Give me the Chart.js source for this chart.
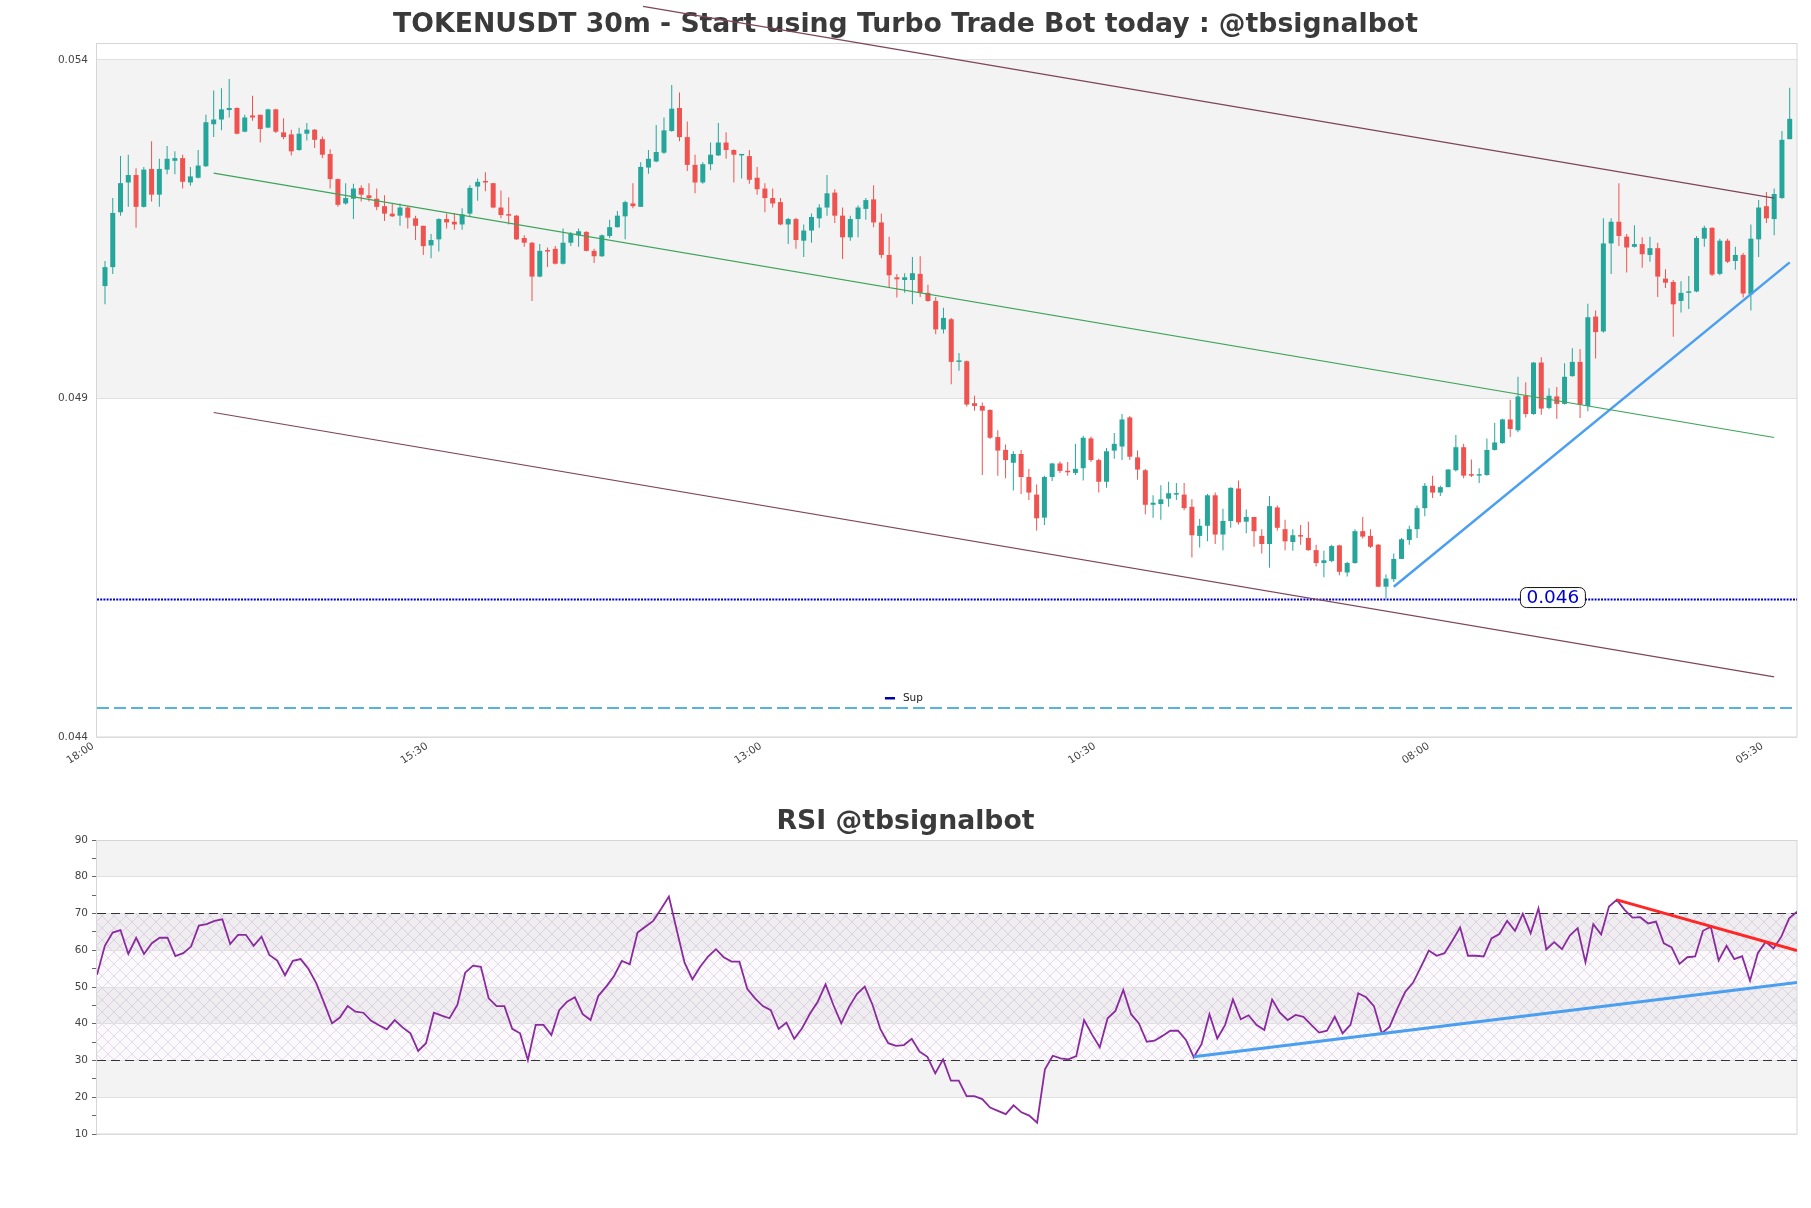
<!DOCTYPE html>
<html>
<head>
<meta charset="utf-8">
<script src="https://cdn.jsdelivr.net/npm/chart.js@4.4.1/dist/chart.umd.min.js"></script>
<style>
  html, body { margin: 0; padding: 0; background: #fff; }
  #wrap { position: relative; width: 1811px; height: 1208px; }
  canvas { position: absolute; left: 0; }
</style>
</head>
<body>
<div id="wrap">
  <canvas id="price" width="1811" height="790" style="top:0"></canvas>
  <canvas id="rsi" width="1811" height="418" style="top:790px"></canvas>
</div>
<script>
// ---- candles (30m) ----
const open = [
  0.05066,0.05094,0.05175,0.05219,0.05230,0.05183,0.05239,0.05201,0.05238,0.05251,
  0.05255,0.05219,0.05226,0.05243,0.05305,0.05312,0.05326,0.05329,0.05294,0.05318,
  0.05319,0.05300,0.05327,0.05293,0.05290,0.05267,0.05291,0.05297,0.05283,0.05261,
  0.05224,0.05188,0.05195,0.05211,0.05200,0.05195,0.05184,0.05173,0.05170,0.05182,
  0.05166,0.05155,0.05126,0.05135,0.05165,0.05161,0.05157,0.05173,0.05213,0.05220,
  0.05218,0.05182,0.05171,0.05170,0.05137,0.05130,0.05080,0.05118,0.05121,0.05099,
  0.05130,0.05141,0.05146,0.05118,0.05110,0.05140,0.05153,0.05169,0.05188,0.05183,
  0.05241,0.05250,0.05263,0.05295,0.05329,0.05286,0.05245,0.05219,0.05246,0.05259,
  0.05278,0.05267,0.05259,0.05258,0.05226,0.05210,0.05196,0.05190,0.05157,0.05165,
  0.05133,0.05148,0.05166,0.05182,0.05204,0.05170,0.05138,0.05165,0.05180,0.05194,
  0.05160,0.05112,0.05079,0.05075,0.05075,0.05084,0.05056,0.05044,0.05002,0.05017,
  0.04954,0.04955,0.04893,0.04889,0.04883,0.04843,0.04824,0.04805,0.04818,0.04784,
  0.04758,0.04724,0.04784,0.04804,0.04793,0.04790,0.04797,0.04841,0.04809,0.04777,
  0.04823,0.04829,0.04872,0.04813,0.04794,0.04743,0.04744,0.04752,0.04758,0.04758,
  0.04740,0.04697,0.04712,0.04757,0.04699,0.04719,0.04767,0.04718,0.04725,0.04697,
  0.04685,0.04739,0.04707,0.04688,0.04698,0.04694,0.04676,0.04657,0.04660,0.04683,
  0.04643,0.04657,0.04704,0.04697,0.04684,0.04622,0.04633,0.04663,0.04691,0.04707,
  0.04738,0.04771,0.04761,0.04769,0.04794,0.04828,0.04787,0.04786,0.04787,0.04824,
  0.04834,0.04869,0.04853,0.04904,0.04877,0.04953,0.04886,0.04903,0.04892,0.04933,
  0.04954,0.04889,0.05021,0.04999,0.05129,0.05161,0.05139,0.05124,0.05128,0.05112,
  0.05122,0.05077,0.05072,0.05044,0.05056,0.05058,0.05136,0.05152,0.05084,0.05133,
  0.05103,0.05112,0.05054,0.05135,0.05184,0.05165,0.05196,0.05283
];
const high = [
  0.05103,0.05196,0.05258,0.05260,0.05240,0.05242,0.05280,0.05254,0.05273,0.05265,
  0.05260,0.05242,0.05267,0.05319,0.05355,0.05358,0.05372,0.05330,0.05319,0.05347,
  0.05319,0.05328,0.05328,0.05314,0.05297,0.05300,0.05307,0.05298,0.05287,0.05268,
  0.05225,0.05218,0.05217,0.05215,0.05218,0.05210,0.05200,0.05188,0.05188,0.05184,
  0.05170,0.05155,0.05143,0.05166,0.05173,0.05174,0.05181,0.05215,0.05225,0.05234,
  0.05218,0.05207,0.05197,0.05171,0.05141,0.05131,0.05128,0.05123,0.05125,0.05151,
  0.05146,0.05151,0.05147,0.05121,0.05142,0.05164,0.05177,0.05192,0.05218,0.05249,
  0.05267,0.05304,0.05315,0.05363,0.05352,0.05309,0.05260,0.05249,0.05278,0.05307,
  0.05293,0.05268,0.05261,0.05267,0.05242,0.05218,0.05210,0.05196,0.05167,0.05167,
  0.05157,0.05173,0.05187,0.05230,0.05209,0.05182,0.05170,0.05185,0.05196,0.05215,
  0.05173,0.05139,0.05084,0.05085,0.05109,0.05110,0.05068,0.05050,0.05034,0.05019,
  0.04967,0.04956,0.04904,0.04894,0.04884,0.04853,0.04832,0.04822,0.04824,0.04796,
  0.04773,0.04786,0.04805,0.04807,0.04806,0.04833,0.04845,0.04844,0.04811,0.04827,
  0.04849,0.04877,0.04874,0.04823,0.04796,0.04757,0.04772,0.04777,0.04775,0.04775,
  0.04751,0.04722,0.04759,0.04761,0.04737,0.04769,0.04779,0.04736,0.04725,0.04707,
  0.04756,0.04742,0.04721,0.04707,0.04713,0.04718,0.04684,0.04675,0.04684,0.04684,
  0.04659,0.04707,0.04725,0.04707,0.04685,0.04640,0.04671,0.04694,0.04712,0.04742,
  0.04775,0.04786,0.04771,0.04796,0.04846,0.04833,0.04810,0.04797,0.04841,0.04864,
  0.04870,0.04898,0.04932,0.04924,0.04954,0.04961,0.04915,0.04917,0.04952,0.04974,
  0.04973,0.05040,0.05030,0.05166,0.05166,0.05218,0.05143,0.05156,0.05138,0.05139,
  0.05130,0.05091,0.05075,0.05073,0.05081,0.05140,0.05155,0.05153,0.05136,0.05136,
  0.05124,0.05115,0.05157,0.05193,0.05205,0.05210,0.05295,0.05359
];
const low = [
  0.05039,0.05084,0.05170,0.05183,0.05152,0.05182,0.05191,0.05183,0.05231,0.05231,
  0.05210,0.05214,0.05225,0.05242,0.05286,0.05296,0.05315,0.05290,0.05293,0.05310,
  0.05278,0.05299,0.05292,0.05283,0.05259,0.05266,0.05281,0.05270,0.05255,0.05210,
  0.05183,0.05186,0.05165,0.05191,0.05191,0.05178,0.05162,0.05168,0.05155,0.05151,
  0.05134,0.05112,0.05107,0.05117,0.05151,0.05149,0.05149,0.05168,0.05192,0.05206,
  0.05181,0.05166,0.05157,0.05134,0.05124,0.05044,0.05079,0.05094,0.05098,0.05098,
  0.05125,0.05124,0.05117,0.05100,0.05109,0.05137,0.05152,0.05135,0.05181,0.05183,
  0.05232,0.05249,0.05261,0.05294,0.05280,0.05236,0.05203,0.05217,0.05237,0.05258,
  0.05254,0.05219,0.05225,0.05217,0.05201,0.05175,0.05182,0.05156,0.05128,0.05121,
  0.05109,0.05130,0.05152,0.05170,0.05159,0.05106,0.05133,0.05138,0.05164,0.05153,
  0.05107,0.05063,0.05049,0.05056,0.05039,0.05050,0.05043,0.04995,0.04996,0.04921,
  0.04941,0.04888,0.04882,0.04787,0.04840,0.04786,0.04782,0.04764,0.04759,0.04750,
  0.04705,0.04713,0.04778,0.04790,0.04786,0.04787,0.04779,0.04806,0.04761,0.04768,
  0.04811,0.04809,0.04809,0.04780,0.04729,0.04724,0.04721,0.04740,0.04750,0.04735,
  0.04665,0.04680,0.04689,0.04685,0.04676,0.04709,0.04714,0.04701,0.04681,0.04671,
  0.04650,0.04705,0.04676,0.04675,0.04684,0.04675,0.04652,0.04636,0.04658,0.04639,
  0.04637,0.04656,0.04693,0.04679,0.04621,0.04605,0.04629,0.04663,0.04684,0.04694,
  0.04726,0.04753,0.04756,0.04769,0.04792,0.04782,0.04784,0.04775,0.04786,0.04823,
  0.04833,0.04843,0.04850,0.04872,0.04876,0.04876,0.04884,0.04870,0.04891,0.04932,
  0.04871,0.04881,0.04959,0.04997,0.05084,0.05125,0.05086,0.05123,0.05093,0.05102,
  0.05050,0.05063,0.04991,0.05027,0.05032,0.05057,0.05124,0.05081,0.05082,0.05100,
  0.05090,0.05049,0.05030,0.05109,0.05159,0.05141,0.05195,0.05283
];
const close = [
  0.05094,0.05174,0.05218,0.05230,0.05183,0.05238,0.05201,0.05239,0.05254,0.05255,
  0.05220,0.05228,0.05244,0.05308,0.05312,0.05327,0.05329,0.05291,0.05315,0.05315,
  0.05298,0.05327,0.05294,0.05286,0.05265,0.05291,0.05297,0.05282,0.05260,0.05224,
  0.05186,0.05196,0.05210,0.05201,0.05196,0.05183,0.05173,0.05169,0.05182,0.05167,
  0.05155,0.05125,0.05134,0.05165,0.05160,0.05157,0.05172,0.05211,0.05220,0.05219,
  0.05182,0.05171,0.05170,0.05135,0.05130,0.05080,0.05118,0.05117,0.05099,0.05130,
  0.05143,0.05147,0.05118,0.05110,0.05141,0.05153,0.05170,0.05190,0.05184,0.05242,
  0.05254,0.05264,0.05296,0.05328,0.05286,0.05245,0.05219,0.05246,0.05260,0.05278,
  0.05267,0.05260,0.05260,0.05223,0.05209,0.05196,0.05188,0.05157,0.05165,0.05134,
  0.05148,0.05168,0.05182,0.05203,0.05170,0.05138,0.05165,0.05182,0.05193,0.05160,
  0.05112,0.05082,0.05076,0.05079,0.05085,0.05056,0.05044,0.05002,0.05019,0.04954,
  0.04955,0.04891,0.04889,0.04882,0.04842,0.04823,0.04809,0.04818,0.04784,0.04761,
  0.04723,0.04784,0.04804,0.04793,0.04791,0.04796,0.04842,0.04809,0.04777,0.04822,
  0.04833,0.04869,0.04814,0.04795,0.04743,0.04746,0.04751,0.04760,0.04760,0.04738,
  0.04698,0.04712,0.04757,0.04699,0.04719,0.04768,0.04717,0.04725,0.04704,0.04685,
  0.04741,0.04709,0.04689,0.04698,0.04696,0.04676,0.04657,0.04661,0.04682,0.04644,
  0.04657,0.04704,0.04696,0.04681,0.04622,0.04634,0.04663,0.04692,0.04707,0.04738,
  0.04771,0.04761,0.04769,0.04795,0.04828,0.04786,0.04786,0.04787,0.04824,0.04835,
  0.04869,0.04855,0.04903,0.04877,0.04953,0.04885,0.04904,0.04892,0.04932,0.04954,
  0.04891,0.05020,0.04998,0.05129,0.05161,0.05140,0.05123,0.05128,0.05113,0.05122,
  0.05080,0.05071,0.05039,0.05056,0.05058,0.05137,0.05152,0.05083,0.05133,0.05102,
  0.05112,0.05055,0.05136,0.05182,0.05166,0.05202,0.05282,0.05313
];

// time axis: one label every 43 candles
const xTickIdx = [-1, 42, 85, 128, 171, 214];
const xTickLabels = ['18:00', '15:30', '13:00', '10:30', '08:00', '05:30'];
const yTicks = [0.044, 0.049, 0.054];
const priceBands = [[0.049, 0.054]];

// drawn lines
const chanUpperX = [69.3, 215];
const chanUpper = [0.05479, 0.051959];
const chanX = [14, 215];
const chanMid = [0.052328, 0.048423];
const chanLower = [0.048793, 0.044888];
const trendX = [166, 217];
const trendY = [0.04622, 0.05101];
const supLevel = 0.04603;
const supLabel = '0.046';
const supLabelX = 186.5;
const lowLevel = 0.04443;

// ---- RSI ----
const rsi = [
  53.3,61.2,64.8,65.5,59.0,63.4,59.0,61.9,63.4,63.4,
  58.4,59.2,61.0,66.7,67.1,68.0,68.4,61.7,64.2,64.2,
  61.2,63.7,58.7,57.2,53.2,57.1,57.6,54.9,51.0,45.6,
  40.1,41.7,44.8,43.3,43.0,40.8,39.6,38.5,41.0,39.0,
  37.4,32.6,34.7,43.0,42.2,41.5,45.1,53.9,55.8,55.5,
  46.9,44.8,44.8,38.6,37.4,30.1,39.7,39.7,36.9,43.7,
  46.0,47.2,42.6,41.0,47.6,50.1,53.0,57.1,56.2,64.8,
  66.4,68.0,71.2,74.6,65.5,56.6,52.1,55.5,58.3,60.3,
  58.1,56.9,56.9,49.5,46.9,44.8,43.7,38.6,40.3,35.9,
  38.8,42.7,46.0,50.7,45.1,40.1,44.6,48.1,50.1,45.1,
  38.5,34.7,34.0,34.2,35.9,32.4,31.0,26.5,30.3,24.5,
  24.5,20.3,20.3,19.5,17.2,16.3,15.4,17.8,15.9,15.0,
  13.1,27.6,31.3,30.6,30.3,31.2,41.0,37.1,33.6,41.5,
  43.5,49.2,42.6,40.1,35.1,35.4,36.7,38.1,38.1,35.6,
  30.9,34.5,42.6,36.0,39.7,46.6,41.2,42.3,39.7,38.3,
  46.6,43.0,41.0,42.4,41.9,39.7,37.6,38.1,41.9,37.4,
  39.7,48.3,47.2,44.8,37.4,39.2,44.2,48.7,51.2,55.5,
  59.9,58.5,59.2,62.6,66.2,58.5,58.5,58.3,63.2,64.4,
  68.0,65.3,69.9,64.6,71.4,60.2,62.2,60.3,64.0,66.0,
  56.7,67.1,64.3,71.9,73.7,71.0,68.9,69.0,67.3,67.8,
  61.9,60.8,56.3,58.1,58.3,65.3,66.4,57.2,61.2,57.6,
  58.4,51.7,59.2,62.3,60.5,63.7,68.7,70.5
];
const rsiLevels = [30, 70];
const rsiBands = [[80, 90], [60, 70], [40, 50], [20, 30]];
const rsiHatch = [30, 70];
const rsiDownX = [194, 217], rsiDownY = [73.7, 59.9];
const rsiUpX = [140, 217], rsiUpY = [31.0, 51.2];

const UP = '#26a69a', DOWN = '#ef5350';
const FONT = 'DejaVu Sans';
const GRID = '#e0e0e0';
const xMin = -1.03, xMax = 217.94;

const candleColors = close.map((c, i) => c >= open[i] ? UP : DOWN);
const seg = (xs, ys) => xs.map((x, i) => ({x, y: ys[i]}));

function makeHatch(ctx) {
  const c = document.createElement('canvas');
  c.width = c.height = 12;
  const g = c.getContext('2d');
  g.strokeStyle = 'rgba(180,160,195,0.45)';
  g.lineWidth = 0.8;
  g.beginPath();
  g.moveTo(0, 0); g.lineTo(12, 12);
  g.moveTo(12, 0); g.lineTo(0, 12);
  g.stroke();
  return ctx.createPattern(c, 'repeat');
}

// background bands + frame
const bandsPlugin = {
  id: 'bands',
  beforeDraw(chart, args, opts) {
    const {ctx, chartArea: a, scales: {y}} = chart;
    ctx.save();
    ctx.fillStyle = '#f3f3f3';
    opts.bands.forEach(([lo, hi]) => {
      const t = y.getPixelForValue(hi), b = y.getPixelForValue(lo);
      ctx.fillRect(a.left, t, a.right - a.left, b - t);
    });
    if (opts.hatch) {
      const t = y.getPixelForValue(opts.hatch[1]), b = y.getPixelForValue(opts.hatch[0]);
      ctx.fillStyle = 'rgba(200,160,220,0.06)';
      ctx.fillRect(a.left, t, a.right - a.left, b - t);
      ctx.fillStyle = makeHatch(ctx);
      ctx.fillRect(a.left, t, a.right - a.left, b - t);
    }
    ctx.restore();
  },
  beforeDatasetsDraw(chart) {
    const {ctx, chartArea: a} = chart;
    ctx.save();
    ctx.strokeStyle = '#d6d6d6';
    ctx.lineWidth = 1;
    ctx.strokeRect(Math.round(a.left) - 0.5, Math.round(a.top) + 0.5,
      Math.round(a.right - a.left) + 0.5, Math.round(a.bottom - a.top) - 0.5);
    ctx.restore();
  }
};

// "0.046" tag and the "Sup" legend
const supPlugin = {
  id: 'sup',
  afterDatasetsDraw(chart) {
    const {ctx, chartArea: a, scales: {x, y}} = chart;
    const cx = x.getPixelForValue(supLabelX), cy = y.getPixelForValue(supLevel) - 2;
    ctx.save();
    ctx.font = '18.5px "DejaVu Sans"';
    const w = ctx.measureText(supLabel).width + 12, h = 20;
    ctx.beginPath();
    ctx.roundRect(cx - w / 2, cy - h / 2, w, h, 6);
    ctx.fillStyle = '#fff';
    ctx.fill();
    ctx.strokeStyle = '#111';
    ctx.lineWidth = 1;
    ctx.stroke();
    ctx.fillStyle = '#0000cc';
    ctx.textAlign = 'center';
    ctx.textBaseline = 'middle';
    ctx.fillText(supLabel, cx, cy + 1);

    const lx = a.left + (a.right - a.left) * 0.4635, ly = a.bottom - 39;
    ctx.fillStyle = '#0000aa';
    ctx.fillRect(lx, ly - 1, 10, 2.5);
    ctx.fillStyle = '#222';
    ctx.font = '10.5px "DejaVu Sans"';
    ctx.textAlign = 'left';
    ctx.fillText('Sup', lx + 18, ly);
    ctx.restore();
  }
};

const lineDs = (data, color, width, extra) => Object.assign({
  type: 'line', data, borderColor: color, borderWidth: width,
  pointRadius: 0, fill: false, tension: 0, order: 0
}, extra || {});

const titleOpts = (text, top, bottom) => ({
  display: true, text, color: '#3a3a3a',
  font: {family: FONT, size: 26.7, weight: 'bold'},
  padding: {top, bottom}
});

new Chart(document.getElementById('price'), {
  type: 'bar',
  data: {
    datasets: [
      {label: 'wick', data: low.map((l, i) => ({x: i, y: [l, high[i]]})),
        backgroundColor: candleColors, barThickness: 1, order: 2},
      {label: 'body', data: open.map((o, i) => ({x: i, y: [o, close[i]]})),
        backgroundColor: candleColors, barThickness: 5, minBarLength: 1.5, order: 1},
      lineDs(seg(chanUpperX, chanUpper), '#7d4658', 1.2, {clip: false}),
      lineDs(seg(chanX, chanMid), '#3ea35a', 1.2),
      lineDs(seg(chanX, chanLower), '#7d4658', 1.2),
      lineDs(seg(trendX, trendY), '#4a9ff0', 2.5),
      lineDs(seg([xMin, xMax], [supLevel, supLevel]), '#0000cd', 2, {borderDash: [2, 1.2]}),
      lineDs(seg([xMin, xMax], [lowLevel, lowLevel]), '#1f9bcf', 1.5, {borderDash: [12, 5]})
    ]
  },
  options: {
    responsive: false,
    animation: false,
    layout: {padding: {left: 14, right: 14, top: 0, bottom: 0}},
    datasets: {bar: {grouped: false, inflateAmount: 0, borderWidth: 0}},
    plugins: {
      legend: {display: false},
      tooltip: {enabled: false},
      title: titleOpts('TOKENUSDT 30m - Start using Turbo Trade Bot today : @tbsignalbot', 9.3, 1.66),
      bands: {bands: priceBands}
    },
    scales: {
      x: {
        type: 'linear', min: xMin, max: xMax, offset: false,
        afterBuildTicks: s => { s.ticks = xTickIdx.map(v => ({value: v})); },
        afterFit: s => { s.height = 53; },
        grid: {display: false},
        border: {display: false},
        ticks: {
          autoSkip: false, minRotation: 33, maxRotation: 33, padding: -5, labelOffset: -4,
          color: '#444', font: {family: FONT, size: 10.5},
          callback: v => xTickLabels[xTickIdx.indexOf(v)]
        }
      },
      y: {
        min: 0.044, max: 0.05425,
        afterBuildTicks: s => { s.ticks = yTicks.map(v => ({value: v})); },
        afterFit: s => { s.width = 83; },
        grid: {color: GRID, drawTicks: false},
        border: {display: false},
        ticks: {
          padding: 9, color: '#444', font: {family: FONT, size: 10.5},
          callback: v => v.toFixed(3)
        }
      }
    }
  },
  plugins: [bandsPlugin, supPlugin]
});

new Chart(document.getElementById('rsi'), {
  type: 'line',
  data: {
    datasets: [
      lineDs(rsi.map((v, i) => ({x: i, y: v})), '#8a2a9e', 1.8, {order: 1}),
      ...rsiLevels.map(l => lineDs(seg([0, rsi.length - 1], [l, l]), '#333', 1.2, {borderDash: [9, 5], order: 2})),
      lineDs(seg(rsiDownX, rsiDownY), '#ff2626', 3),
      lineDs(seg(rsiUpX, rsiUpY), '#4a9ff0', 3)
    ]
  },
  options: {
    responsive: false,
    animation: false,
    layout: {padding: {left: 14, right: 14, top: 0, bottom: 74}},
    plugins: {
      legend: {display: false},
      tooltip: {enabled: false},
      title: titleOpts('RSI @tbsignalbot', 16.3, 1.66),
      bands: {bands: rsiBands, hatch: rsiHatch}
    },
    scales: {
      x: {type: 'linear', min: 0, max: rsi.length - 1, display: false},
      y: {
        min: 10, max: 90,
        afterFit: s => { s.width = 83; },
        grid: {
          color: c => c.tick.value % 10 === 0 ? GRID : 'rgba(0,0,0,0)',
          tickColor: '#666', tickLength: 5
        },
        border: {display: false},
        ticks: {
          stepSize: 5, padding: 4, color: '#444', font: {family: FONT, size: 10.5},
          callback: v => v % 10 === 0 ? v : ''
        }
      }
    }
  },
  plugins: [bandsPlugin]
});
</script>
</body>
</html>
